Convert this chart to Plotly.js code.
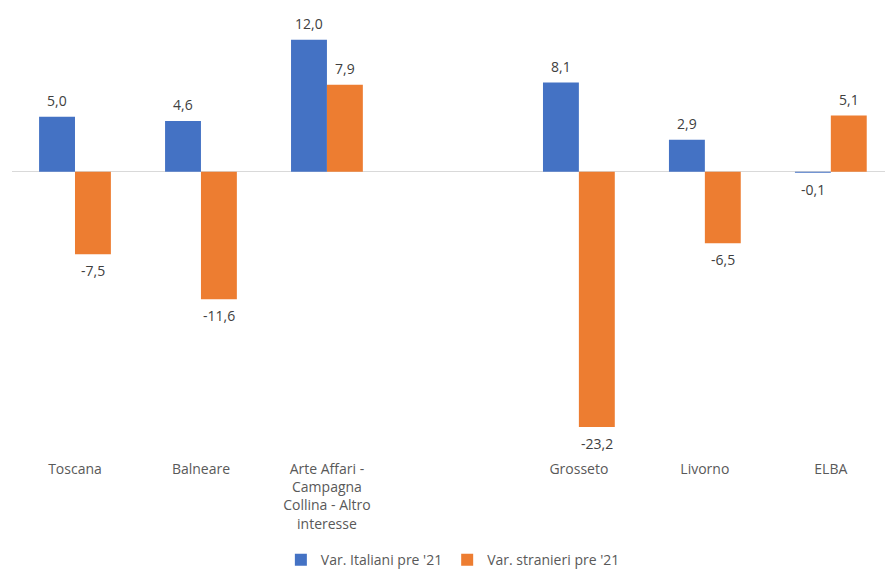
<!DOCTYPE html>
<html>
<head>
<meta charset="utf-8">
<script src="https://cdn.plot.ly/plotly-3.0.1.min.js"></script>
<style>html,body{margin:0;padding:0;background:#fff;}#chart{width:885px;height:572px;}</style>
</head>
<body>
<div id="chart"></div>
<script>
var categories = ["Toscana", "Balneare", "Arte Affari -<br>Campagna<br>Collina - Altro<br>interesse", " ", "Grosseto", "Livorno", "ELBA"];
var italiani = [5.0, 4.6, 12.0, null, 8.1, 2.9, -0.1];
var stranieri = [-7.5, -11.6, 7.9, null, -23.2, -6.5, 5.1];
var seriesNames = ["Var. Italiani pre '21", "Var. stranieri pre '21"];
var colors = ['#4472C4', '#ED7D31'];

var font = "Open Sans, Liberation Sans, sans-serif";
function bar(y, name, color) {
  return {
    type: 'bar', x: categories, y: y, name: name,
    marker: {color: color, line: {width: 0}},
    hoverinfo: 'skip'
  };
}
var data = [bar(italiani, seriesNames[0], colors[0]), bar(stranieri, seriesNames[1], colors[1])];

function fmt(v) { return v.toFixed(1).replace('.', ','); }
var annotations = [];
[italiani, stranieri].forEach(function (series, s) {
  series.forEach(function (v, i) {
    if (v === null) return;
    annotations.push({
      x: categories[i], y: v, xref: 'x', yref: 'y', text: fmt(v), showarrow: false,
      xshift: s === 0 ? -18 : 18,
      yanchor: v >= 0 ? 'bottom' : 'top', yshift: v >= 0 ? 5 : -5,
      font: {family: font, size: 14, color: '#404040'}
    });
  });
});

var layout = {
  width: 885, height: 572,
  margin: {l: 12, r: 0, t: 10, b: 0, autoexpand: false},
  separators: ',.',
  paper_bgcolor: '#ffffff', plot_bgcolor: '#ffffff',
  barmode: 'group', bargap: 0.43, bargroupgap: 0,
  font: {family: font, size: 14, color: '#595959'},
  annotations: annotations,
  xaxis: {type: 'category', range: [-0.5, 6.43], showgrid: false, showline: false, ticks: '',
          ticklabelstandoff: 9,
          tickfont: {family: font, size: 14, color: '#595959'}, automargin: false, fixedrange: true},
  yaxis: {range: [-25.3, 14.7], domain: [0.2171, 1], showgrid: false, showticklabels: false, zeroline: true,
          zerolinecolor: '#D9D9D9', zerolinewidth: 1, ticks: '', fixedrange: true},
  showlegend: true,
  legend: {orientation: 'h', x: 0.505, xanchor: 'center', y: 0.021, yanchor: 'middle',
           font: {family: font, size: 14, color: '#595959'}, itemwidth: 30, traceorder: 'normal'}
};
Plotly.newPlot('chart', data, layout, {displayModeBar: false, staticPlot: true});
</script>
</body>
</html>
